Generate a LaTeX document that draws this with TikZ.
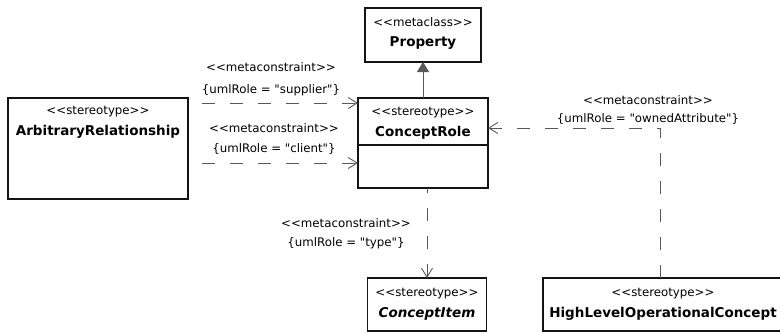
\documentclass[tikz,border=0pt]{standalone}
\usepackage{fontspec}
\usetikzlibrary{arrows.meta, positioning}
\newfontfamily\umlfont{DejaVu Sans}[Ligatures=TeXOff,
  BoldFont={DejaVu Sans Bold}, ItalicFont={DejaVu Sans Oblique},
  BoldItalicFont={DejaVu Sans Bold Oblique}]
\newcommand{\stfont}{\umlfont\fontsize{11.8}{14}\selectfont}
\newcommand{\nmfont}{\umlfont\bfseries\fontsize{13.5}{14}\selectfont}
\definecolor{cLine}{RGB}{88,88,88}
\definecolor{cBorder}{RGB}{20,20,20}

\begin{document}
\begin{tikzpicture}[x=1pt, y=-1pt,
    cls/.style={draw=cBorder, line width=1.1pt, outer sep=0pt, inner xsep=2pt,
                inner ysep=0pt, align=center, font=\stfont},
    lbl/.style={font=\stfont, align=center, inner sep=0pt},
    dep/.style={draw=cLine, line width=0.9pt, dash pattern=on 13pt off 15pt,
                -{Straight Barb[length=9pt, width=11pt]}},
    gen/.style={draw=cLine, line width=1pt,
                -{Triangle[length=10pt, width=12pt, fill=cLine]}}]
  \useasboundingbox (0,0) rectangle (780,333);
  % classes
  \node[cls, minimum width=130pt, text height=38.8pt, text depth=8.2pt, anchor=north]
       (rolehd) at (423,98) {<<stereotype>>\\[7.5pt]\nmfont ConceptRole};
  \node[cls, minimum width=130pt, minimum height=43pt, below=0pt of rolehd] (rolebd) {};
  \node[cls, minimum width=116pt, text height=38.8pt, text depth=15.2pt, above=36pt of rolehd]
       (prop) {<<metaclass>>\\[6.5pt]\nmfont Property};
  \node[cls, minimum width=180pt, text height=37.5pt, text depth=63.5pt,
        left=170pt of rolehd.north west, anchor=north east]
       (arbit) {<<stereotype>>\\[7.5pt]\nmfont ArbitraryRelationship};
  \node[cls, minimum width=119pt, text height=39.8pt, text depth=13.2pt, anchor=north]
       (citem) at (427,278) {<<stereotype>>\\[7.5pt]\nmfont\itshape ConceptItem};
  \node[cls, minimum width=240pt, text height=39.8pt, text depth=13.2pt, anchor=north west]
       (hloc) at (543,278) {<<stereotype>>\\[7.5pt]\nmfont HighLevelOperationalConcept};
  % constraint labels
  \node[lbl] (suplbl)  at (271,79)  {<<metaconstraint>>\\[8pt]\{umlRole = "supplier"\}};
  \node[lbl] (clilbl)  at (274,139) {<<metaconstraint>>\\[6pt]\{umlRole = "client"\}};
  \node[lbl] (typelbl) at (346,234) {<<metaconstraint>>\\[5pt]\{umlRole = "type"\}};
  \node[lbl] (ownlbl)  at (648,110) {<<metaconstraint>>\\[4pt]\{umlRole = "ownedAttribute"\}};
  % connectors
  \draw[gen] (rolehd.north) -- (prop.south);
  \draw[dep, dash phase=14pt] ([yshift=-5pt]arbit.north east) -- ([yshift=-5pt]rolehd.north west);
  \draw[dep, dash phase=14pt] ([yshift=-65pt]arbit.north east) -- ([yshift=-18pt]rolebd.north west);
  \draw[dep, dash phase=8pt] (rolebd.south -| citem.north) -- (citem.north);
  \coordinate (ownbend) at (660,128);
  \draw[dep] (hloc.north -| ownbend) -- (ownbend) -- (rolehd.east |- ownbend);
\end{tikzpicture}
\end{document}
